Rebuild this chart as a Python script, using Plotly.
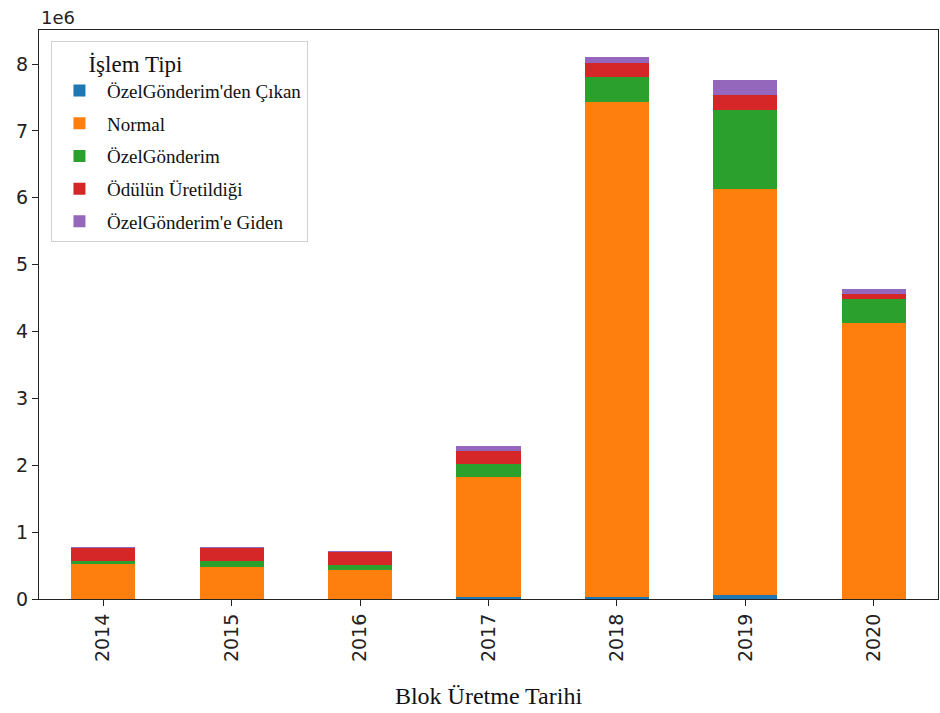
import plotly.graph_objects as go

years = ["2014", "2015", "2016", "2017", "2018", "2019", "2020"]
series_names = ["ÖzelGönderim'den Çıkan", "Normal", "ÖzelGönderim", "Ödülün Üretildiği", "ÖzelGönderim'e Giden"]
cikan = [0.005e6, 0.005e6, 0.005e6, 0.03e6, 0.03e6, 0.06e6, 0.005e6]
normal = [0.515e6, 0.47e6, 0.425e6, 1.80e6, 7.40e6, 6.07e6, 4.12e6]
ozel = [0.045e6, 0.09e6, 0.075e6, 0.185e6, 0.374e6, 1.19e6, 0.363e6]
odul = [0.209e6, 0.209e6, 0.199e6, 0.203e6, 0.209e6, 0.224e6, 0.075e6]
giden = [0.002e6, 0.002e6, 0.002e6, 0.075e6, 0.096e6, 0.215e6, 0.07e6]
colors = ["#1f77b4", "#ff7f0e", "#2ca02c", "#d62728", "#9467bd"]

fig = go.Figure()
for i, (name, vals, c) in enumerate(zip(series_names, [cikan, normal, ozel, odul, giden], colors)):
    fig.add_trace(go.Bar(x=years, y=vals, name=name, legendgroup=f"g{i}",
                         marker=dict(color=c, line=dict(width=0)), width=0.5))

axis_font = dict(family="DejaVu Sans", size=19, color="#222")
fig.update_layout(
    width=940, height=713,
    barmode="stack",
    plot_bgcolor="white", paper_bgcolor="white",
    margin=dict(l=39, r=2, t=30, b=114),
    xaxis=dict(
        type="category", range=[-0.5, 6.5], tickangle=-90,
        showline=True, linecolor="#222", linewidth=1.3, mirror=True,
        ticks="outside", ticklen=6, tickcolor="#222", tickfont=axis_font,
        title=dict(text="Blok Üretme Tarihi", font=dict(family="Liberation Serif", size=24, color="#111"), standoff=26),
        showgrid=False,
    ),
    yaxis=dict(
        range=[0, 8.51e6], tickvals=[i * 1e6 for i in range(9)], ticktext=[str(i) for i in range(9)],
        showline=True, linecolor="#222", linewidth=1.3, mirror=True,
        ticks="outside", ticklen=6, tickcolor="#222", tickfont=axis_font,
        showgrid=False, zeroline=False,
    ),
    legend=dict(
        x=0.0133, y=0.981, xanchor="left", yanchor="top",
        traceorder="grouped", tracegroupgap=5,
        bgcolor="white", bordercolor="#d0d0d0", borderwidth=1,
        font=dict(family="Liberation Serif", size=19, color="#111"),
        title=dict(text="      İşlem Tipi", font=dict(family="Liberation Serif", size=23, color="#111"), side="top"),
        itemwidth=45,
    ),
    annotations=[dict(text="1e6", x=0, y=1, xref="paper", yref="paper", xanchor="left", yanchor="bottom",
                      showarrow=False, font=dict(family="DejaVu Sans", size=18, color="#222"), yshift=0)],
)

fig.write_html("out.html")
